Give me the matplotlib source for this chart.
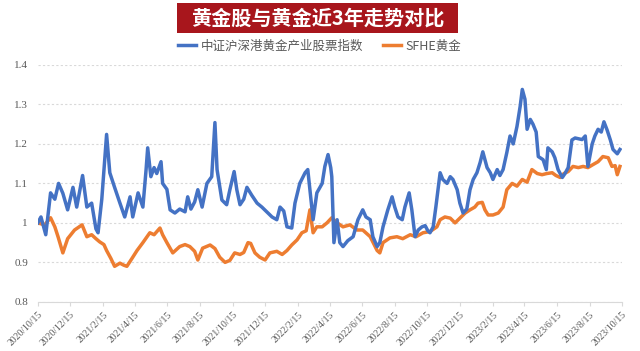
import numpy as np
import pandas as pd
import matplotlib
matplotlib.use("Agg")
from matplotlib import pyplot as plt
from matplotlib.patches import Rectangle

START = pd.Timestamp("2020-10-15")

# days since 2020/10/15 and index values (start = 1)
gold_stock_days = [0, 6, 15, 24, 32, 39, 47, 56, 66, 73, 84, 92, 101, 109, 113, 120,
                   129, 135, 144, 154, 163, 173, 178, 188, 197, 203, 206, 212, 218, 223,
                   231, 234, 242, 248, 257, 266, 276, 281, 287, 294, 300, 308, 317, 326,
                   332, 336, 345, 354, 360, 368, 373, 379, 386, 392, 401, 411, 420, 429,
                   439, 448, 454, 461, 467, 476, 482, 491, 501, 506, 512, 516, 523, 533,
                   538, 544, 549, 551, 555, 561, 566, 572, 581, 591, 600, 609, 615, 623,
                   628, 636, 641, 647, 656, 664, 669, 675, 683, 688, 696, 701, 707, 713,
                   720, 726, 731, 735, 741, 746, 754, 759, 767, 773, 778, 786, 791, 797,
                   804, 810, 816, 823, 829, 834, 842, 848, 853, 861, 866, 872, 879, 885,
                   891, 898, 904, 908, 913, 917, 923, 928, 934, 938, 947, 953, 956, 964,
                   969, 975, 983, 988, 994, 1001, 1007, 1014, 1020, 1026, 1031, 1039,
                   1044, 1050, 1056, 1061, 1067, 1073, 1078, 1086, 1091]
gold_stock_vals = [1.0, 1.015, 0.97, 1.076, 1.06, 1.10, 1.075, 1.033, 1.09, 1.04, 1.12,
                   1.04, 1.05, 0.985, 0.975, 1.06, 1.224, 1.127, 1.09, 1.05, 1.015, 1.066,
                   1.015, 1.076, 1.04, 1.135, 1.19, 1.117, 1.14, 1.125, 1.155, 1.10, 1.085,
                   1.033, 1.025, 1.035, 1.028, 1.066, 1.035, 1.053, 1.084, 1.04, 1.10,
                   1.117, 1.254, 1.135, 1.058, 1.046, 1.084, 1.13, 1.084, 1.046, 1.06,
                   1.09, 1.07, 1.05, 1.04, 1.028, 1.015, 1.008, 1.04, 1.03, 0.99, 0.987,
                   1.05, 1.10, 1.127, 1.135, 1.058, 1.008, 1.076, 1.10, 1.143, 1.173,
                   1.14, 1.117, 0.95, 1.008, 0.95, 0.94, 0.955, 0.965, 1.008, 1.033,
                   1.015, 1.008, 0.965, 0.94, 0.95, 0.99, 1.033, 1.066, 1.04, 1.015,
                   1.008, 1.04, 1.076, 1.033, 0.965, 0.982, 0.99, 0.993, 0.98, 0.975,
                   0.99, 1.04, 1.127, 1.11, 1.10, 1.117, 1.11, 1.084, 1.05, 1.025, 1.035,
                   1.084, 1.11, 1.127, 1.153, 1.18, 1.14, 1.127, 1.11, 1.135, 1.12, 1.135,
                   1.178, 1.22, 1.2, 1.244, 1.295, 1.338, 1.313, 1.237, 1.262, 1.25, 1.23,
                   1.168, 1.16, 1.135, 1.19, 1.18, 1.165, 1.135, 1.115, 1.125, 1.14, 1.21,
                   1.215, 1.213, 1.211, 1.22, 1.143, 1.20, 1.22, 1.237, 1.23, 1.256,
                   1.235, 1.21, 1.186, 1.175, 1.186]

gold_days = [0, 13, 24, 32, 38, 47, 56, 69, 83, 92, 101, 109, 116, 124, 129, 137, 144,
             154, 161, 167, 178, 186, 197, 210, 218, 229, 234, 242, 253, 266, 276, 285,
             294, 300, 309, 323, 332, 341, 351, 360, 369, 379, 386, 394, 399, 407, 416,
             426, 435, 448, 458, 467, 476, 486, 495, 503, 510, 516, 523, 533, 542, 551,
             561, 572, 585, 598, 609, 623, 636, 641, 647, 660, 673, 684, 698, 709, 722,
             735, 748, 754, 763, 773, 782, 791, 801, 810, 819, 825, 833, 838, 844, 853,
             863, 872, 879, 889, 898, 908, 917, 926, 936, 945, 954, 964, 971, 979, 986,
             994, 1003, 1013, 1022, 1031, 1041, 1050, 1059, 1069, 1076, 1082, 1086, 1091]
gold_vals = [1.0, 0.995, 1.013, 0.99, 0.965, 0.924, 0.96, 0.982, 0.995, 0.965, 0.97,
             0.96, 0.952, 0.945, 0.93, 0.91, 0.89, 0.898, 0.893, 0.89, 0.913, 0.93, 0.95,
             0.975, 0.97, 0.987, 0.97, 0.95, 0.924, 0.94, 0.945, 0.94, 0.928, 0.906,
             0.936, 0.944, 0.935, 0.913, 0.90, 0.905, 0.924, 0.92, 0.925, 0.95, 0.948,
             0.924, 0.913, 0.906, 0.924, 0.928, 0.92, 0.93, 0.944, 0.957, 0.975, 0.98,
             1.033, 0.975, 0.99, 0.99, 1.0, 1.013, 1.0, 0.99, 0.995, 0.982, 0.982, 0.965,
             0.93, 0.924, 0.95, 0.962, 0.965, 0.96, 0.97, 0.965, 0.975, 0.978, 0.99,
             1.008, 1.015, 1.012, 1.0, 1.012, 1.025, 1.033, 1.04, 1.05, 1.052, 1.033,
             1.02, 1.02, 1.025, 1.04, 1.084, 1.10, 1.093, 1.11, 1.103, 1.135, 1.125,
             1.122, 1.125, 1.127, 1.12, 1.115, 1.125, 1.13, 1.143, 1.14, 1.143, 1.14,
             1.148, 1.155, 1.168, 1.165, 1.143, 1.145, 1.122, 1.143]

series_names = ["中证沪深港黄金产业股票指数", "SFHE黄金"]
title_text = "黄金股与黄金近3年走势对比"
tick_dates = pd.date_range("2020-10-01", periods=19, freq="2MS") + pd.Timedelta(days=14)
y_ticks = [0.8, 0.9, 1.0, 1.1, 1.2, 1.3, 1.4]

plt.rcParams['font.family'] = ['Noto Sans CJK SC', 'DejaVu Sans']

fig = plt.figure(figsize=(6.4, 3.51), dpi=100)
ax = fig.add_axes([0.059, 0.14, 0.913, 0.675])

x1 = START + pd.to_timedelta(gold_stock_days, unit="D")
x2 = START + pd.to_timedelta(gold_days, unit="D")
ax.plot(x1, gold_stock_vals, color="#4472C4", lw=2.5, label=series_names[0], zorder=3)
ax.plot(x2, gold_vals, color="#ED7D31", lw=2.5, label=series_names[1], zorder=2)

ax.set_xlim(START, pd.Timestamp("2023-10-15"))
ax.set_ylim(0.8, 1.4)
ax.set_yticks(y_ticks)
ax.set_yticklabels(["{:g}".format(v) for v in y_ticks], family="Liberation Serif",
                   fontsize=8, color="#595959")
ax.set_xticks(tick_dates)
ax.set_xticklabels(["{}/{}/{}".format(d.year, d.month, d.day) for d in tick_dates],
                   rotation=45, ha="right", rotation_mode="anchor",
                   family="Liberation Serif", fontsize=7, color="#595959")
ax.tick_params(axis="y", length=0, pad=7)
ax.tick_params(axis="x", length=3, color="#D9D9D9", pad=3)

ax.grid(axis="y", color="#D9D9D9", lw=0.8, linestyle=(0, (2, 2)))
for s in ["left", "right", "top"]:
    ax.spines[s].set_visible(False)
ax.spines["bottom"].set_color("#D9D9D9")

# title box
fig.patches.append(Rectangle((0.277, 0.906), 0.439, 0.086, transform=fig.transFigure,
                             facecolor="#A8161C", edgecolor="none"))
fig.text(0.4965, 0.949, title_text, ha="center", va="center", color="white",
         fontsize=14.5, fontweight="bold")

leg = ax.legend(loc="center", bbox_to_anchor=(0.5, 0.869), bbox_transform=fig.transFigure,
                ncol=2, frameon=False, fontsize=9, handlelength=1.4, columnspacing=1.6,
                handletextpad=0.4)
for t in leg.get_texts():
    t.set_color("#595959")

fig.savefig("out.png", dpi=100)
